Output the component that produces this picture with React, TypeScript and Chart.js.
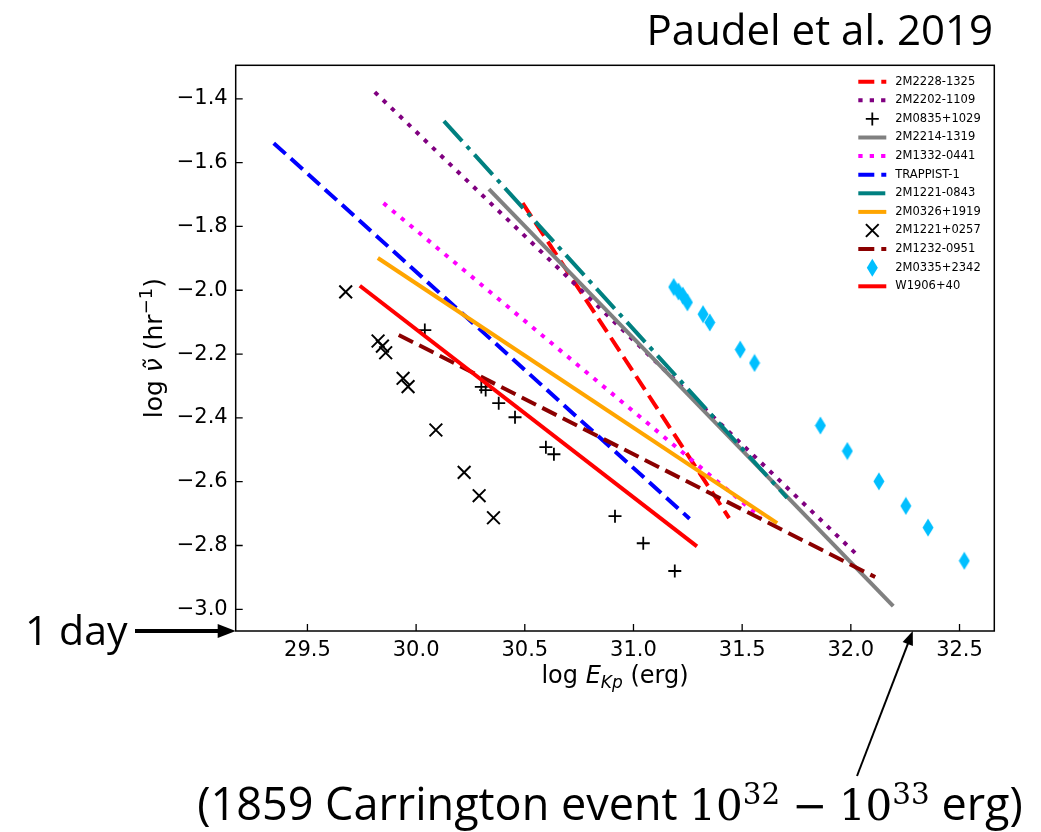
import React, { useEffect, useRef } from "react";
import { Chart, registerables } from "chart.js";

Chart.register(...registerables);

// ---------- axes ----------
const xTicks = [29.5, 30.0, 30.5, 31.0, 31.5, 32.0, 32.5];
const yTicks = [-3.0, -2.8, -2.6, -2.4, -2.2, -2.0, -1.8, -1.6, -1.4];
const xRange = [29.17, 32.66];
const yRange = [-3.068, -1.295];

// ---------- power-law fits (start, end) ----------
const fit2M2228_1325_x = [30.49, 31.44];
const fit2M2228_1325_y = [-1.727, -2.714];
const fit2M2202_1109_x = [29.81, 32.03];
const fit2M2202_1109_y = [-1.379, -2.83];
const fit2M2214_1319_x = [30.335, 32.195];
const fit2M2214_1319_y = [-1.683, -2.99];
const fit2M1332_0441_x = [29.85, 31.585];
const fit2M1332_0441_y = [-1.727, -2.712];
const fitTRAPPIST1_x = [29.345, 31.258];
const fitTRAPPIST1_y = [-1.539, -2.716];
const fit2M1221_0843_x = [30.128, 31.707];
const fit2M1221_0843_y = [-1.47, -2.651];
const fit2M0326_1919_x = [29.824, 31.661];
const fit2M0326_1919_y = [-1.899, -2.73];
const fit2M1232_0951_x = [29.92, 32.112];
const fit2M1232_0951_y = [-2.14, -2.899];
const fitW1906_40_x = [29.741, 31.292];
const fitW1906_40_y = [-1.986, -2.803];

// ---------- individual flare points ----------
const pts2M0835_1029_x = [30.04, 30.3, 30.32, 30.38, 30.455, 30.597, 30.634, 30.915, 31.045, 31.19];
const pts2M0835_1029_y = [-2.125, -2.303, -2.313, -2.354, -2.398, -2.492, -2.514, -2.708, -2.793, -2.88];
const pts2M1221_0257_x = [29.676, 29.825, 29.845, 29.86, 29.94, 29.963, 30.091, 30.221, 30.29, 30.356];
const pts2M1221_0257_y = [-2.005, -2.159, -2.175, -2.196, -2.276, -2.302, -2.438, -2.571, -2.644, -2.713];
const pts2M0335_2342_x = [31.185, 31.207, 31.227, 31.248, 31.32, 31.351, 31.491, 31.557, 31.86, 31.984, 32.129, 32.253, 32.355, 32.522];
const pts2M0335_2342_y = [-1.99, -2.004, -2.017, -2.038, -2.075, -2.101, -2.186, -2.228, -2.424, -2.504, -2.599, -2.676, -2.744, -2.848];

// annotation target on the energy axis (Carrington event)
const carringtonArrowX = 32.285;

type Kind = "line" | "plus" | "x" | "diamond";
interface Spec {
  label: string;
  xs: number[];
  ys: number[];
  kind: Kind;
  color: string;
  dash?: number[];
}

const DASHED = [16, 7];
const DOTTED = [4.3, 7.1];
const DASHDOT = [27, 7, 4.3, 7];

const specs: Spec[] = [
  { label: "2M2228-1325", xs: fit2M2228_1325_x, ys: fit2M2228_1325_y, kind: "line", color: "#ff0000", dash: DASHED },
  { label: "2M2202-1109", xs: fit2M2202_1109_x, ys: fit2M2202_1109_y, kind: "line", color: "#800080", dash: DOTTED },
  { label: "2M0835+1029", xs: pts2M0835_1029_x, ys: pts2M0835_1029_y, kind: "plus", color: "#000000" },
  { label: "2M2214-1319", xs: fit2M2214_1319_x, ys: fit2M2214_1319_y, kind: "line", color: "#808080" },
  { label: "2M1332-0441", xs: fit2M1332_0441_x, ys: fit2M1332_0441_y, kind: "line", color: "#ff00ff", dash: DOTTED },
  { label: "TRAPPIST-1", xs: fitTRAPPIST1_x, ys: fitTRAPPIST1_y, kind: "line", color: "#0000ff", dash: DASHED },
  { label: "2M1221-0843", xs: fit2M1221_0843_x, ys: fit2M1221_0843_y, kind: "line", color: "#008080", dash: DASHDOT },
  { label: "2M0326+1919", xs: fit2M0326_1919_x, ys: fit2M0326_1919_y, kind: "line", color: "#ffa500" },
  { label: "2M1221+0257", xs: pts2M1221_0257_x, ys: pts2M1221_0257_y, kind: "x", color: "#000000" },
  { label: "2M1232-0951", xs: fit2M1232_0951_x, ys: fit2M1232_0951_y, kind: "line", color: "#8b0000", dash: DASHED },
  { label: "2M0335+2342", xs: pts2M0335_2342_x, ys: pts2M0335_2342_y, kind: "diamond", color: "#00bfff" },
  { label: "W1906+40", xs: fitW1906_40_x, ys: fitW1906_40_y, kind: "line", color: "#ff0000" },
];

const LW = 4;
const PLUS_R = 6.5;
const X_R = 9;

function makeDiamond(color: string): HTMLCanvasElement {
  const c = document.createElement("canvas");
  c.width = 12;
  c.height = 19;
  const g = c.getContext("2d")!;
  g.fillStyle = color;
  g.beginPath();
  g.moveTo(6, 0.5);
  g.lineTo(11.5, 9.5);
  g.lineTo(6, 18.5);
  g.lineTo(0.5, 9.5);
  g.closePath();
  g.fill();
  return c;
}

function drawMarker(ctx: CanvasRenderingContext2D, kind: Kind, color: string, cx: number, cy: number) {
  ctx.save();
  ctx.strokeStyle = color;
  ctx.fillStyle = color;
  ctx.setLineDash([]);
  if (kind === "plus") {
    ctx.lineWidth = 1.8;
    ctx.beginPath();
    ctx.moveTo(cx - PLUS_R, cy);
    ctx.lineTo(cx + PLUS_R, cy);
    ctx.moveTo(cx, cy - PLUS_R);
    ctx.lineTo(cx, cy + PLUS_R);
    ctx.stroke();
  } else if (kind === "x") {
    const d = X_R * Math.SQRT1_2;
    ctx.lineWidth = 2;
    ctx.beginPath();
    ctx.moveTo(cx - d, cy - d);
    ctx.lineTo(cx + d, cy + d);
    ctx.moveTo(cx - d, cy + d);
    ctx.lineTo(cx + d, cy - d);
    ctx.stroke();
  } else if (kind === "diamond") {
    ctx.beginPath();
    ctx.moveTo(cx, cy - 9);
    ctx.lineTo(cx + 5.5, cy);
    ctx.lineTo(cx, cy + 9);
    ctx.lineTo(cx - 5.5, cy);
    ctx.closePath();
    ctx.fill();
  }
  ctx.restore();
}

function drawRich(
  ctx: CanvasRenderingContext2D,
  parts: { t: string; font: string; dy?: number }[],
  cx: number,
  baseline: number
) {
  let total = 0;
  for (const p of parts) {
    ctx.font = p.font;
    total += ctx.measureText(p.t).width;
  }
  let x = cx - total / 2;
  ctx.textAlign = "left";
  ctx.textBaseline = "alphabetic";
  for (const p of parts) {
    ctx.font = p.font;
    ctx.fillText(p.t, x, baseline + (p.dy || 0));
    x += ctx.measureText(p.t).width;
  }
}

function arrow(ctx: CanvasRenderingContext2D, x0: number, y0: number, x1: number, y1: number, lw: number, hl: number, hw: number) {
  const ang = Math.atan2(y1 - y0, x1 - x0);
  const bx = x1 - Math.cos(ang) * hl;
  const by = y1 - Math.sin(ang) * hl;
  ctx.save();
  ctx.strokeStyle = "#000";
  ctx.fillStyle = "#000";
  ctx.lineWidth = lw;
  ctx.setLineDash([]);
  ctx.beginPath();
  ctx.moveTo(x0, y0);
  ctx.lineTo(bx + Math.cos(ang) * 1, by + Math.sin(ang) * 1);
  ctx.stroke();
  ctx.beginPath();
  ctx.moveTo(x1, y1);
  ctx.lineTo(bx - Math.sin(ang) * hw, by + Math.cos(ang) * hw);
  ctx.lineTo(bx + Math.sin(ang) * hw, by - Math.cos(ang) * hw);
  ctx.closePath();
  ctx.fill();
  ctx.restore();
}

const decorPlugin = {
  id: "decor",
  afterDraw(chart: any) {
    const { ctx, chartArea: a, scales } = chart;
    const xs = scales.x;
    const ys = scales.y;
    ctx.save();
    // frame
    ctx.strokeStyle = "#000";
    ctx.lineWidth = 1.5;
    ctx.setLineDash([]);
    ctx.strokeRect(a.left, a.top, a.right - a.left, a.bottom - a.top);
    // inward ticks
    ctx.lineWidth = 1.3;
    ctx.beginPath();
    for (const v of xTicks) {
      const px = xs.getPixelForValue(v);
      ctx.moveTo(px, a.bottom);
      ctx.lineTo(px, a.bottom - 7);
    }
    for (const v of yTicks) {
      const py = ys.getPixelForValue(v);
      ctx.moveTo(a.left, py);
      ctx.lineTo(a.left + 7, py);
    }
    ctx.stroke();

    // axis titles
    ctx.fillStyle = "#000";
    const F = '"DejaVu Sans"';
    drawRich(
      ctx,
      [
        { t: "log ", font: `24px ${F}` },
        { t: "E", font: `italic 24px ${F}` },
        { t: "Kp", font: `italic 17px ${F}`, dy: 5 },
        { t: " (erg)", font: `24px ${F}` },
      ],
      (a.left + a.right) / 2,
      a.bottom + 52
    );
    ctx.save();
    ctx.translate(a.left - 74, (a.top + a.bottom) / 2);
    ctx.rotate(-Math.PI / 2);
    drawRich(
      ctx,
      [
        { t: "log ", font: `25px ${F}` },
        { t: "\u03BD\u0303", font: `italic 25px ${F}` },
        { t: " (hr", font: `25px ${F}` },
        { t: "\u22121", font: `18px ${F}`, dy: -10 },
        { t: ")", font: `25px ${F}` },
      ],
      0,
      0
    );
    ctx.restore();

    // legend
    specs.forEach((s, i) => {
      const cy = a.top + 16.4 + i * 18.6;
      const x0 = a.right - 136;
      const x1 = a.right - 108;
      if (s.kind === "line") {
        ctx.save();
        ctx.strokeStyle = s.color;
        ctx.lineWidth = LW;
        ctx.lineCap = "butt";
        ctx.setLineDash(s.dash || []);
        ctx.beginPath();
        ctx.moveTo(x0, cy);
        ctx.lineTo(x1, cy);
        ctx.stroke();
        ctx.restore();
      } else {
        drawMarker(ctx, s.kind, s.color, (x0 + x1) / 2, cy);
      }
      ctx.fillStyle = "#000";
      ctx.font = `11.5px ${F}`;
      ctx.textAlign = "left";
      ctx.textBaseline = "middle";
      ctx.fillText(s.label, a.right - 99, cy);
    });

    // annotation arrows
    arrow(ctx, 135, a.bottom, a.left, a.bottom, 4, 18, 7);
    arrow(ctx, 857, 776, xs.getPixelForValue(carringtonArrowX), a.bottom, 2, 14, 5.5);
    ctx.restore();
  },
};

export default function App() {
  const canvasRef = useRef<HTMLCanvasElement | null>(null);

  useEffect(() => {
    const canvas = canvasRef.current;
    if (!canvas) return;
    const diamond = makeDiamond("#00bfff");
    const n = specs.length;
    const datasets = specs.map((s, i) => {
      const data = s.xs.map((x, k) => ({ x, y: s.ys[k] }));
      const base: any = { label: s.label, data, order: n - i };
      if (s.kind === "line") {
        return {
          ...base,
          showLine: true,
          borderColor: s.color,
          backgroundColor: s.color,
          borderWidth: LW,
          borderDash: s.dash || [],
          borderCapStyle: "butt",
          pointRadius: 0,
          fill: false,
        };
      }
      if (s.kind === "diamond") {
        return { ...base, showLine: false, pointStyle: diamond, pointRadius: 9, borderColor: s.color, backgroundColor: s.color };
      }
      return {
        ...base,
        showLine: false,
        pointStyle: s.kind === "plus" ? "cross" : "crossRot",
        pointRadius: s.kind === "plus" ? PLUS_R : X_R,
        pointBorderWidth: s.kind === "plus" ? 1.8 : 2,
        borderColor: s.color,
        backgroundColor: s.color,
      };
    });

    const tickFont = { family: "DejaVu Sans", size: 21 };
    const chart = new Chart(canvas, {
      type: "scatter",
      data: { datasets },
      options: {
        responsive: false,
        animation: false,
        events: [],
        layout: { padding: { left: 0, top: 65.3, right: 46.7, bottom: 0 } },
        plugins: { legend: { display: false }, tooltip: { enabled: false } },
        scales: {
          x: {
            type: "linear",
            min: xRange[0],
            max: xRange[1],
            grid: { display: false, drawTicks: false },
            border: { display: false },
            afterFit: (s: any) => {
              s.height = 201;
            },
            afterBuildTicks: (s: any) => {
              s.ticks = xTicks.map((v) => ({ value: v }));
            },
            ticks: {
              padding: 7,
              color: "#000",
              font: tickFont,
              autoSkip: false,
              maxRotation: 0,
              callback: (v: any) => Number(v).toFixed(1),
            },
          },
          y: {
            type: "linear",
            min: yRange[0],
            max: yRange[1],
            grid: { display: false, drawTicks: false },
            border: { display: false },
            afterFit: (s: any) => {
              s.width = 235.7;
            },
            afterBuildTicks: (s: any) => {
              s.ticks = yTicks.map((v) => ({ value: v }));
            },
            ticks: {
              padding: 8,
              color: "#000",
              font: tickFont,
              autoSkip: false,
              callback: (v: any) => {
                const n = Number(v);
                return (n < 0 ? "\u2212" : "") + Math.abs(n).toFixed(1);
              },
            },
          },
        },
      } as any,
      plugins: [decorPlugin],
    });
    return () => chart.destroy();
  }, []);

  const slideFont = '"Open Sans", "Noto Sans", sans-serif';
  const supStyle: React.CSSProperties = { fontSize: "0.7em", verticalAlign: "0.55em", lineHeight: 0 };
  return (
    <div style={{ position: "absolute", left: 0, top: 0, width: 1041, height: 832, background: "#fff", overflow: "hidden" }}>
      <canvas ref={canvasRef} width={1041} height={832} style={{ position: "absolute", left: 0, top: 0 }} />
      <div
        style={{
          position: "absolute",
          right: 48,
          top: 7.7,
          fontFamily: slideFont,
          fontSize: 42,
          lineHeight: "42px",
          whiteSpace: "nowrap",
          color: "#000",
        }}
      >
        Paudel et al. 2019
      </div>
      <div
        style={{
          position: "absolute",
          left: 25,
          top: 609,
          fontFamily: slideFont,
          fontSize: 41,
          lineHeight: "41px",
          whiteSpace: "nowrap",
          color: "#000",
        }}
      >
        1 day
      </div>
      <div
        style={{
          position: "absolute",
          left: 610,
          top: 780,
          transform: "translateX(-50%)",
          fontFamily: slideFont,
          fontSize: 45,
          lineHeight: "45px",
          whiteSpace: "nowrap",
          color: "#000",
        }}
      >
        (1859 Carrington event{" "}
        <span style={{ fontFamily: '"DejaVu Serif", serif', fontSize: 42 }}>
          10<sup style={supStyle}>32</sup>
          <span style={{ margin: "0 0.28em" }}>−</span>10<sup style={supStyle}>33</sup>
        </span>{" "}
        erg)
      </div>
    </div>
  );
}
